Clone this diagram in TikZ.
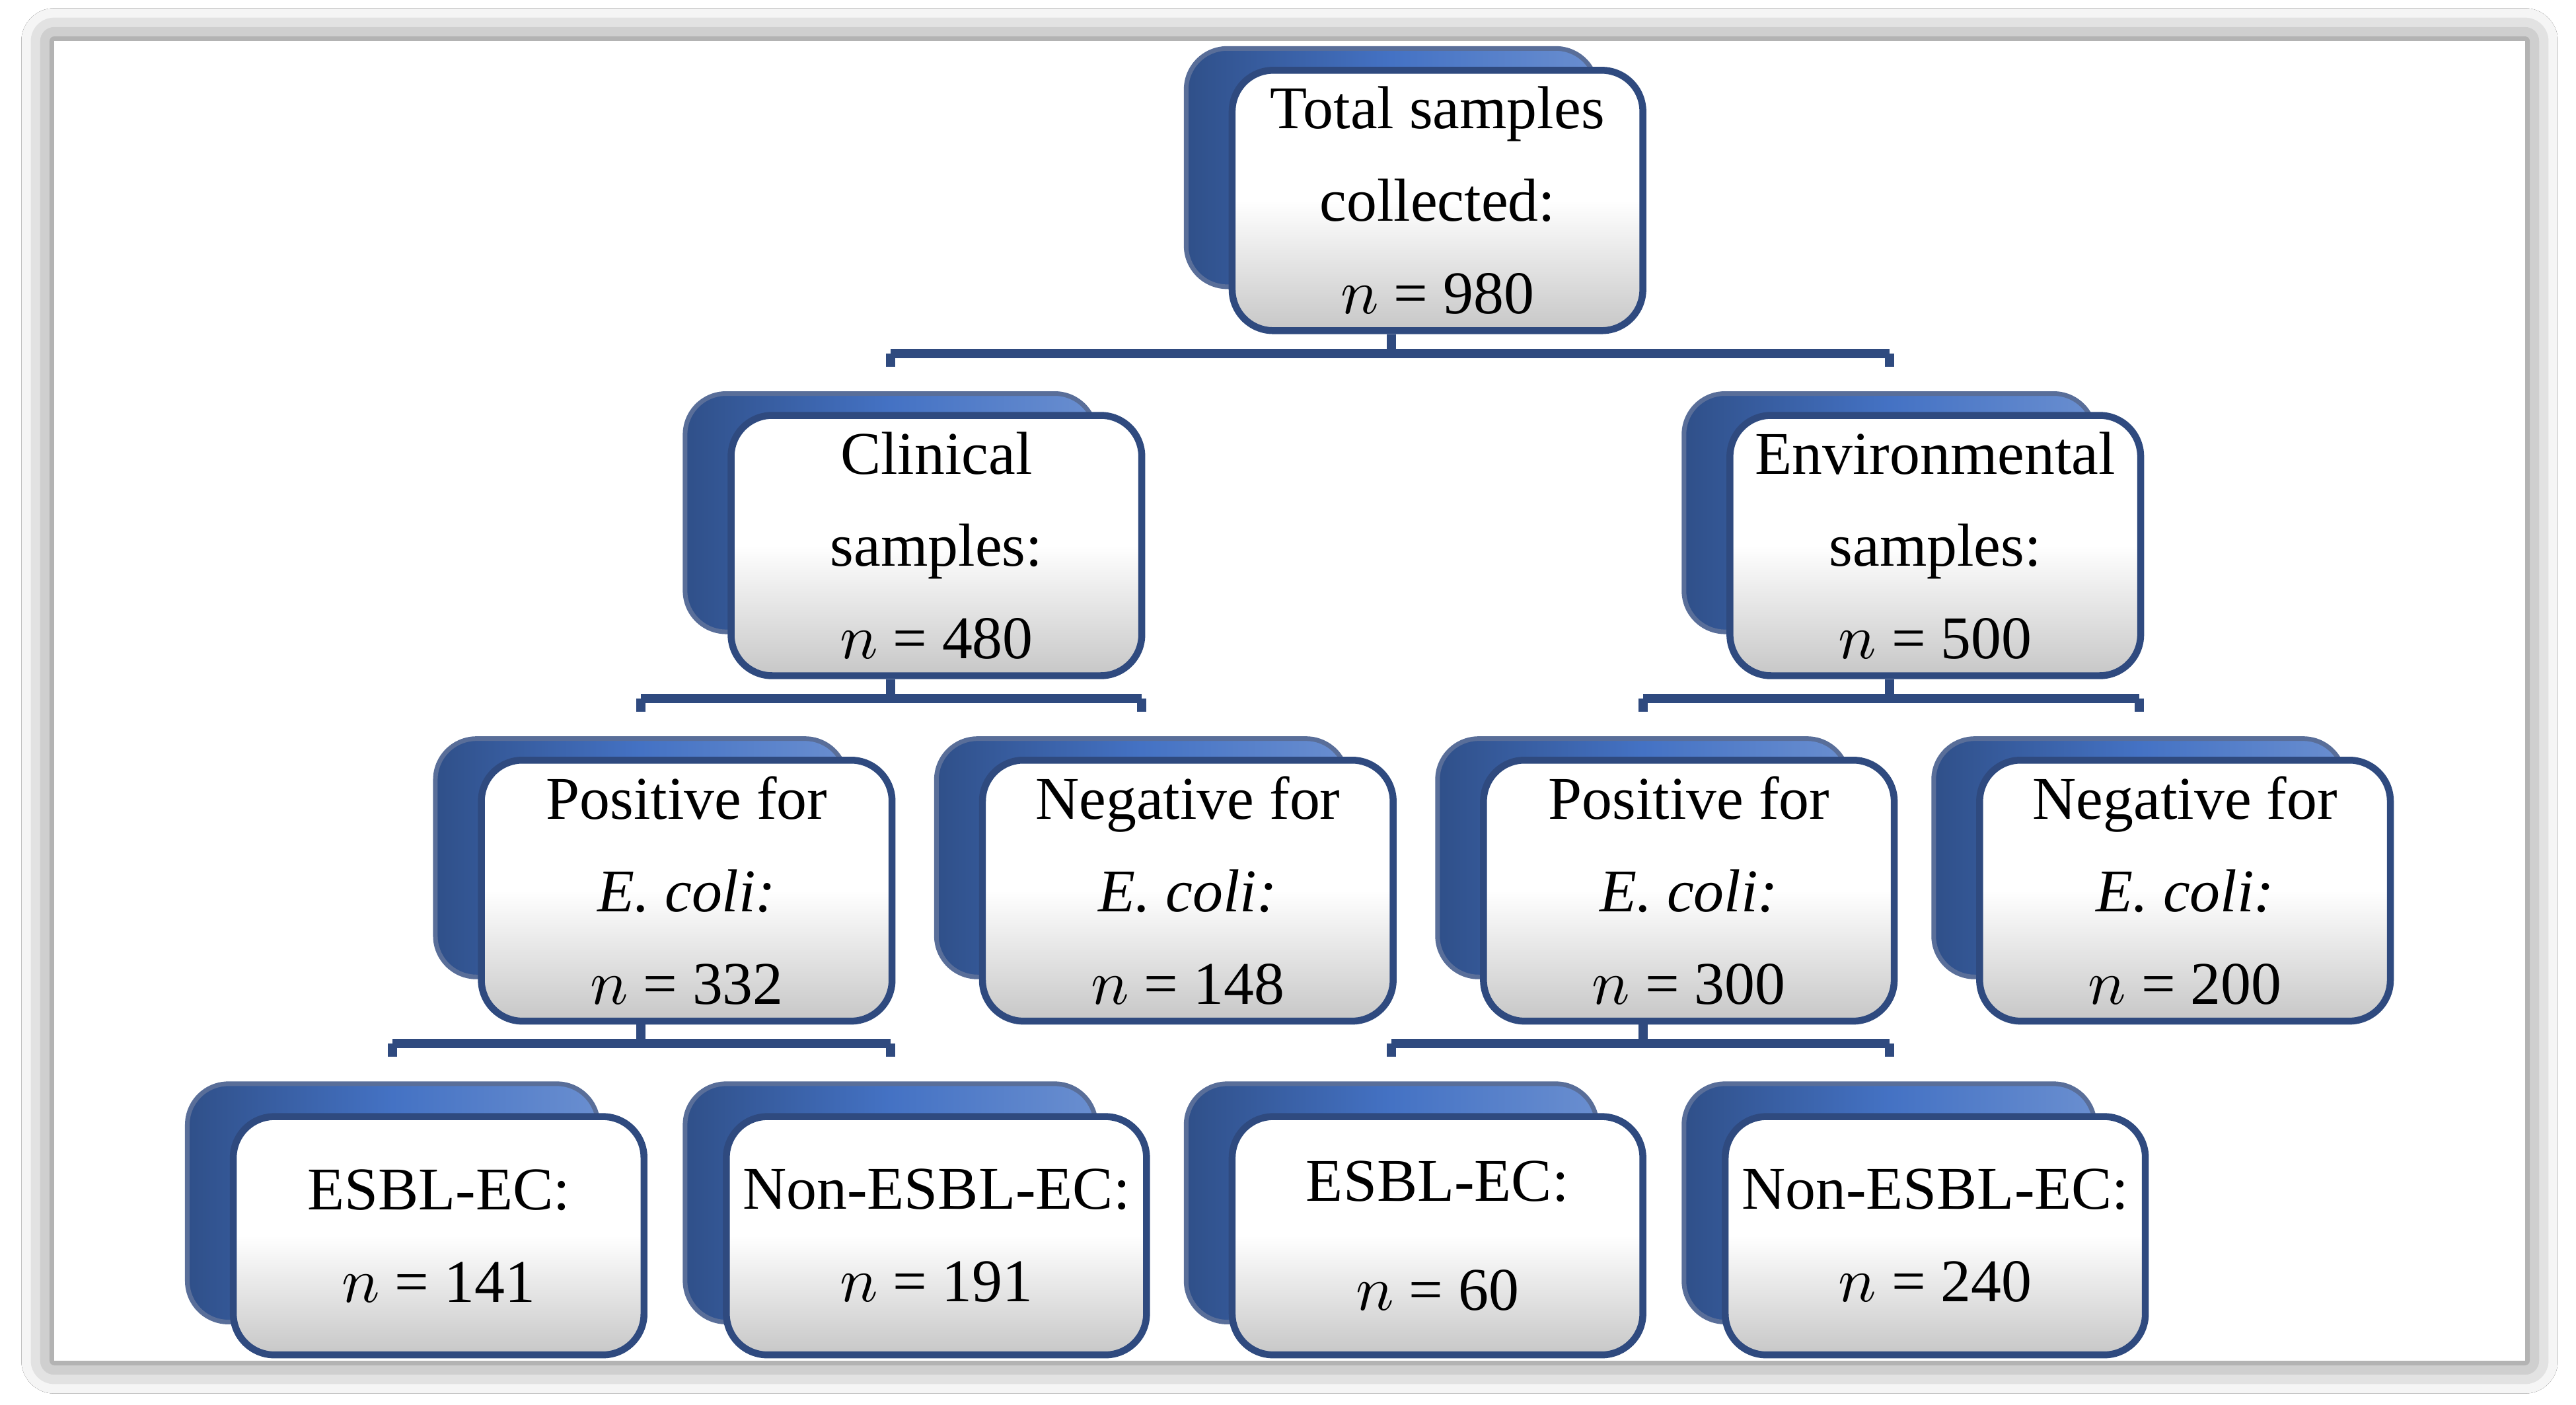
\documentclass[tikz,border=0pt]{standalone}
\usepackage{fontspec}
\setmainfont{Liberation Serif}
\usetikzlibrary{shadows.blur}
\definecolor{navy}{HTML}{2F4A7F}
\definecolor{bblue}{HTML}{4472C4}
\tikzset{
 front/.style={draw=navy,line width=1.2pt,rounded corners=2.5mm,minimum width=25mm,minimum height=14.5mm,
   top color=white,bottom color=black!22,middle color=white,shading angle=0,align=center,
   font=\fontsize{10.5}{16}\selectfont,inner sep=1mm},
 back/.style={draw=navy!80,line width=0.8pt,rounded corners=2.5mm,minimum width=25mm,minimum height=14.5mm,
   left color=bblue!70!black,right color=bblue!80,middle color=bblue},
 conn/.style={draw=navy,line width=1.6pt},
}
\newcommand{\mybox}[4]{% name, x, y (front center), text
 \node[back] (#1bk) at (#2-28,#3-20) {};
 \node[front] (#1) at (#2,#3) {#4};
}
\newcommand{\bracket}[4]{% parent, left child, right child, y
 \coordinate (lev) at (0,#4);
 \draw[conn] (#1bk.center |- #1.south) -- (#1bk.center |- lev);
 \draw[conn] (#2bk.center |- lev) -- (#3bk.center |- lev);
 \draw[conn] (#2bk.center |- lev) -- ([yshift=1.5mm]#2bk.north);
 \draw[conn] (#3bk.center |- lev) -- ([yshift=1.5mm]#3bk.north);
}
\begin{document}
\begin{tikzpicture}[x=0.1mm,y=-0.1mm]
\useasboundingbox (0,0) rectangle (1568,855);
\fill[white] (0,0) rectangle (1568,855);
\fill[white,blur shadow={shadow xshift=0mm,shadow yshift=0mm,shadow blur radius=2mm,shadow opacity=60}] (33,25) rectangle (1537,828);
\mybox{t}{875}{122}{Total samples\\collected:\\$n$ = 980}
\mybox{cl}{570}{332}{Clinical\\samples:\\$n$ = 480}
\mybox{en}{1178}{332}{Environmental\\samples:\\$n$ = 500}
\mybox{pa}{418}{542}{Positive for\\\textit{E. coli:}\\$n$ = 332}
\mybox{na}{723}{542}{Negative for\\\textit{E. coli:}\\$n$ = 148}
\mybox{pb}{1028}{542}{Positive for\\\textit{E. coli:}\\$n$ = 300}
\mybox{nb}{1330}{542}{Negative for\\\textit{E. coli:}\\$n$ = 200}
\mybox{ea}{267}{752}{ESBL-EC:\\$n$ = 141}
\mybox{oa}{570}{752}{Non-ESBL-EC:\\$n$ = 191}
\mybox{ex}{875}{752}{ESBL-EC:\\[1mm]$n$ = 60}
\mybox{ox}{1178}{752}{Non-ESBL-EC:\\$n$ = 240}
\bracket{t}{cl}{en}{215}
\bracket{cl}{pa}{na}{425}
\bracket{en}{pb}{nb}{425}
\bracket{pa}{ea}{oa}{635}
\bracket{pb}{ex}{ox}{635}
\end{tikzpicture}
\end{document}
